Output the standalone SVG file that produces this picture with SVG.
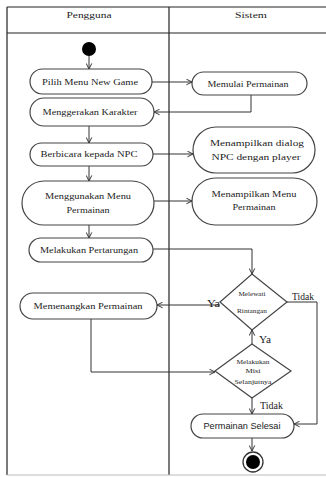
<svg xmlns="http://www.w3.org/2000/svg" width="326" height="477" viewBox="0 0 326 477">
<defs>
<marker id="arr" viewBox="0 0 10 10" refX="9" refY="5" markerWidth="7" markerHeight="7" orient="auto" markerUnits="userSpaceOnUse">
<path d="M1,1 L9,5 L1,9" fill="none" stroke="#333" stroke-width="1.4"/>
</marker>
<style>
.box{fill:#fff;stroke:#444;stroke-width:1.2}
.t{font-family:"Liberation Serif",serif;font-size:8.8px;fill:#222;text-anchor:middle}
.s{font-family:"Liberation Serif",serif;font-size:5.5px;fill:#222;text-anchor:middle}
.lb{font-family:"Liberation Serif",serif;font-size:9.5px;fill:#222}
.c{fill:none;stroke:#333;stroke-width:1;marker-end:url(#arr)}
.frame{fill:none;stroke:#222;stroke-width:1.2}
</style>
</defs>
<rect width="326" height="477" fill="#fff"/>
<g id="swimlanes">
<line class="frame" x1="7" y1="7" x2="326" y2="7"/>
<line class="frame" x1="7" y1="33" x2="326" y2="33"/>
<line class="frame" x1="7" y1="7" x2="7" y2="475"/>
<line class="frame" x1="169" y1="7" x2="169" y2="475"/>
<line x1="7" y1="475" x2="326" y2="475" stroke="#bbb" stroke-width="1"/>
<text class="t" x="89" y="18" textLength="45" lengthAdjust="spacingAndGlyphs">Pengguna</text>
<text class="t" x="251" y="18" textLength="32" lengthAdjust="spacingAndGlyphs">Sistem</text>
</g>
<g id="connectors">
<line class="c" x1="89" y1="56" x2="89" y2="69"/>
<line class="c" x1="152" y1="82" x2="192" y2="82"/>
<polyline class="c" points="251,95 251,112 154,112"/>
<line class="c" x1="89" y1="126" x2="89" y2="143"/>
<line class="c" x1="153" y1="154" x2="193" y2="154"/>
<line class="c" x1="89" y1="166" x2="89" y2="181"/>
<line class="c" x1="154" y1="201" x2="192" y2="201"/>
<line class="c" x1="89" y1="225" x2="89" y2="238"/>
<polyline class="c" points="153,249 252,249 252,274"/>
<line class="c" x1="220" y1="305" x2="157" y2="305"/>
<polyline class="c" points="287,302 317,302 317,424 294,424"/>
<polyline class="c" points="91,319 91,372 215,372"/>
<line class="c" x1="252" y1="344" x2="252" y2="330"/>
<line class="c" x1="252" y1="398" x2="252" y2="414"/>
<line class="c" x1="252" y1="438" x2="252" y2="451"/>
<text class="lb" x="207" y="307" textLength="13" lengthAdjust="spacingAndGlyphs">Ya</text>
<text class="lb" x="292" y="300" textLength="22" lengthAdjust="spacingAndGlyphs">Tidak</text>
<text class="lb" x="259" y="343" textLength="12" lengthAdjust="spacingAndGlyphs">Ya</text>
<text class="lb" x="260" y="409" textLength="23" lengthAdjust="spacingAndGlyphs">Tidak</text>
</g>
<g id="start"><circle cx="89" cy="49" r="7" fill="#000"/></g>
<g id="pilih"><rect class="box" x="30" y="69" width="122" height="25" rx="12.5"/><text class="t" x="90" y="85" textLength="96" lengthAdjust="spacingAndGlyphs">Pilih Menu New Game</text></g>
<g id="menggerakan"><rect class="box" x="30" y="98" width="124" height="28" rx="14"/><text class="t" x="90" y="115" textLength="95" lengthAdjust="spacingAndGlyphs">Menggerakan  Karakter</text></g>
<g id="berbicara"><rect class="box" x="30" y="143" width="123" height="23" rx="11.5"/><text class="t" x="89" y="157" textLength="97" lengthAdjust="spacingAndGlyphs">Berbicara  kepada NPC</text></g>
<g id="menggunakan"><rect class="box" x="22" y="181" width="132" height="44" rx="22"/><text class="t" x="88" y="199" textLength="86" lengthAdjust="spacingAndGlyphs">Menggunakan  Menu</text><text class="t" x="88" y="213" textLength="43" lengthAdjust="spacingAndGlyphs">Permainan</text></g>
<g id="pertarungan"><rect class="box" x="29" y="238" width="124" height="24" rx="12"/><text class="t" x="89" y="253" textLength="98" lengthAdjust="spacingAndGlyphs">Melakukan  Pertarungan</text></g>
<g id="memenangkan"><rect class="box" x="20" y="293" width="137" height="26" rx="13"/><text class="t" x="88" y="309" textLength="109" lengthAdjust="spacingAndGlyphs">Memenangkan  Permainan</text></g>
<g id="memulai"><rect class="box" x="192" y="72" width="115" height="23" rx="11.5"/><text class="t" x="248" y="87" textLength="81" lengthAdjust="spacingAndGlyphs">Memulai Permainan</text></g>
<g id="dialog"><rect class="box" x="193" y="127" width="122" height="46" rx="23"/><text class="t" x="257" y="146" textLength="94" lengthAdjust="spacingAndGlyphs">Menampilkan dialog</text><text class="t" x="256" y="160" textLength="89" lengthAdjust="spacingAndGlyphs">NPC dengan player</text></g>
<g id="menampilkanmenu"><rect class="box" x="192" y="178" width="125" height="47" rx="23.5"/><text class="t" x="254" y="197" textLength="85" lengthAdjust="spacingAndGlyphs">Menampilkan Menu</text><text class="t" x="254" y="210" textLength="43" lengthAdjust="spacingAndGlyphs">Permainan</text></g>
<g id="rintangan"><polygon class="box" points="252,274 287,302 252,330 220,302"/><text class="s" x="252" y="296" textLength="27" lengthAdjust="spacingAndGlyphs">Melewati</text><text class="s" x="252" y="313" textLength="30" lengthAdjust="spacingAndGlyphs">Rintangan</text></g>
<g id="misi"><polygon class="box" points="252,344 291,371 252,398 215,371"/><text class="s" x="253" y="364" textLength="33" lengthAdjust="spacingAndGlyphs">Melakukan</text><text class="s" x="253" y="373" textLength="15" lengthAdjust="spacingAndGlyphs">Misi</text><text class="s" x="253" y="384" textLength="37" lengthAdjust="spacingAndGlyphs">Selanjutnya</text></g>
<g id="selesai"><rect class="box" x="191" y="414" width="103" height="24" rx="12"/><text x="242" y="429" font-family="Liberation Sans, sans-serif" font-size="9" fill="#222" text-anchor="middle" textLength="77" lengthAdjust="spacingAndGlyphs">Permainan  Selesai</text></g>
<g id="end"><circle cx="253" cy="462" r="10" fill="#fff" stroke="#333" stroke-width="1.3"/><circle cx="253" cy="462" r="7" fill="#000"/></g>
</svg>
